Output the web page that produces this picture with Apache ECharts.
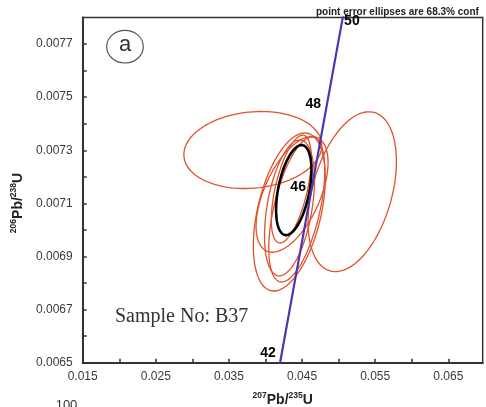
<!DOCTYPE html>
<html>
<head>
<meta charset="utf-8">
<script src="https://cdn.jsdelivr.net/npm/echarts@6/dist/echarts.min.js"></script>
<style>
  html, body { margin: 0; padding: 0; background: #fff; }
  #chart { width: 486px; height: 407px; }
</style>
</head>
<body>
<div id="chart"></div>
<script>
// Axis tick labels
const xTickLabels = ['0.015', '0.025', '0.035', '0.045', '0.055', '0.065'];
const yTickLabels = ['0.0065', '0.0067', '0.0069', '0.0071', '0.0073', '0.0075', '0.0077'];

// Concordia curve nodes (age in Ma, 207Pb/235U, 206Pb/238U)
const concordiaAge = [41, 42, 44, 46, 48, 50, 51];
const concordiaX = [0.041205, 0.042231, 0.044286, 0.046345, 0.048408, 0.050475, 0.051510];
const concordiaY = [0.0063804, 0.0065365, 0.0068488, 0.0071613, 0.0074737, 0.0077864, 0.0079427];

// Age labels placed along the concordia
const labelAge = ['42', '46', '48', '50'];
const labelX = [0.042231, 0.046345, 0.048408, 0.050475];
const labelY = [0.0065365, 0.0071613, 0.0074737, 0.0077864];
const labelSide = ['left', 'left', 'left', 'right'];

// Individual spot error ellipses: centre, half-extent in x and y, error correlation
const spotX   = [0.038265, 0.051860, 0.043252, 0.044276, 0.043279, 0.043525, 0.043630];
const spotY   = [0.007301, 0.007144, 0.0070675, 0.007077, 0.007083, 0.007154, 0.007134];
const spotSx  = [0.00943, 0.00604, 0.00492, 0.00383, 0.003415, 0.00273, 0.00492];
const spotSy  = [0.000145, 0.000301, 0.0002975, 0.000273, 0.000256, 0.000203, 0.000218];
const spotRho = [0.12, 0.38, 0.43, 0.54, 0.41, 0.57, 0.55];

// Weighted mean ellipse
const meanX = [0.043866];
const meanY = [0.00715];
const meanSx = [0.00242];
const meanSy = [0.0001695];
const meanRho = [0.44];

const spotData = spotX.map((v, i) => [v, spotY[i], spotSx[i], spotSy[i], spotRho[i]]);
const meanData = meanX.map((v, i) => [v, meanY[i], meanSx[i], meanSy[i], meanRho[i]]);
const concordiaData = concordiaAge.map((a, i) => [concordiaX[i], concordiaY[i]]);
const labelData = labelAge.map((a, i) => ({
  value: [labelX[i], labelY[i]],
  label: { position: labelSide[i], formatter: a, distance: labelSide[i] === 'left' ? 6 : 2 }
}));

function ellipseRenderer(color, width) {
  return function (params, api) {
    const cx = api.value(0), cy = api.value(1);
    const sx = api.value(2), sy = api.value(3), r = api.value(4);
    const k = Math.sqrt(1 - r * r);
    const pts = [];
    const N = 120;
    for (let i = 0; i <= N; i++) {
      const t = 2 * Math.PI * i / N;
      pts.push(api.coord([cx + sx * Math.cos(t), cy + sy * (r * Math.cos(t) + k * Math.sin(t))]));
    }
    return {
      type: 'polyline',
      shape: { points: pts },
      style: { fill: null, stroke: color, lineWidth: width }
    };
  };
}

const fontSans = '"Liberation Sans", Arial, sans-serif';

const chart = echarts.init(document.getElementById('chart'), null, { renderer: 'canvas' });
chart.setOption({
  animation: false,
  backgroundColor: '#ffffff',
  grid: {
    left: 82.7, right: 3.3, top: 17.5, bottom: 44.3,
    show: true, borderColor: '#333', borderWidth: 1.5, backgroundColor: 'transparent'
  },
  xAxis: {
    type: 'value',
    min: 0.015, max: 0.0697, interval: 0.005,
    axisLine: { lineStyle: { color: '#333', width: 2 } },
    axisTick: { inside: true, length: 4, lineStyle: { color: '#333', width: 1.5 } },
    axisLabel: {
      margin: 8, color: '#3a3a3a', fontSize: 12, fontFamily: fontSans,
      interval: 0, showMaxLabel: false,
      formatter: v => { const s = v.toFixed(3); return xTickLabels.includes(s) ? s : ''; }
    },
    splitLine: { show: false }
  },
  yAxis: {
    type: 'value',
    min: 0.0065, max: 0.0078, interval: 0.0001,
    axisLine: { lineStyle: { color: '#333', width: 2 } },
    axisTick: { inside: true, length: 4, lineStyle: { color: '#333', width: 1.5 } },
    axisLabel: {
      margin: 10, color: '#3a3a3a', fontSize: 12, fontFamily: fontSans,
      interval: 0, showMaxLabel: false,
      formatter: v => { const s = v.toFixed(4); return yTickLabels.includes(s) ? s : ''; }
    },
    splitLine: { show: false }
  },
  series: [
    {
      type: 'custom',
      data: spotData,
      encode: { x: 0, y: 1 },
      clip: true,
      renderItem: ellipseRenderer('#e0522c', 1.3),
      z: 2
    },
    {
      type: 'custom',
      data: meanData,
      encode: { x: 0, y: 1 },
      clip: true,
      renderItem: ellipseRenderer('#000000', 2.6),
      z: 3
    },
    {
      type: 'line',
      data: concordiaData,
      showSymbol: false,
      clip: true,
      lineStyle: { color: '#4a36b0', width: 2.2 },
      z: 4
    },
    {
      type: 'scatter',
      data: labelData,
      symbolSize: 0,
      itemStyle: { opacity: 1 },
      label: {
        show: true, color: '#000', fontSize: 14, fontWeight: 'bold', fontFamily: fontSans,
        textBorderWidth: 0, opacity: 1
      },
      z: 5
    }
  ],
  graphic: [
    {
      type: 'text', left: 316, top: 7, z: 10,
      style: {
        text: 'point error ellipses are 68.3% conf',
        font: 'bold 10px ' + fontSans, fill: '#222'
      }
    },
    {
      type: 'ellipse', shape: { cx: 125, cy: 46.7, rx: 18.3, ry: 16.3 },
      style: { fill: 'none', stroke: '#555', lineWidth: 1.2 }, z: 10
    },
    {
      type: 'text', x: 125, y: 45, z: 10,
      style: { text: 'a', font: '22px ' + fontSans, fill: '#333', align: 'center', verticalAlign: 'middle' }
    },
    {
      type: 'text', x: 115, y: 317, z: 10,
      style: {
        text: 'Sample No: B37', font: '20px "Liberation Serif", "Times New Roman", serif',
        fill: '#333', verticalAlign: 'middle'
      }
    },
    {
      type: 'text', x: 282.7, y: 399, z: 10,
      style: {
        text: '{s|207}{m|Pb/}{s|235}{m|U}',
        align: 'center', verticalAlign: 'middle',
        rich: {
          m: { fontSize: 14, fontWeight: 'bold', fontFamily: fontSans, fill: '#222', lineHeight: 16, verticalAlign: 'bottom' },
          s: { fontSize: 8.5, fontWeight: 'bold', fontFamily: fontSans, fill: '#222', lineHeight: 16, verticalAlign: 'top' }
        }
      }
    },
    {
      type: 'text', x: 17, y: 203, rotation: Math.PI / 2, z: 10,
      style: {
        text: '{s|206}{m|Pb/}{s|238}{m|U}',
        align: 'center', verticalAlign: 'middle',
        rich: {
          m: { fontSize: 14, fontWeight: 'bold', fontFamily: fontSans, fill: '#222', lineHeight: 16, verticalAlign: 'bottom' },
          s: { fontSize: 8.5, fontWeight: 'bold', fontFamily: fontSans, fill: '#222', lineHeight: 16, verticalAlign: 'top' }
        }
      }
    },
    {
      type: 'text', x: 66.5, y: 399, z: 10,
      style: { text: '100', font: '13px ' + fontSans, fill: '#333', align: 'center', verticalAlign: 'top' }
    }
  ]
});
</script>
</body>
</html>
